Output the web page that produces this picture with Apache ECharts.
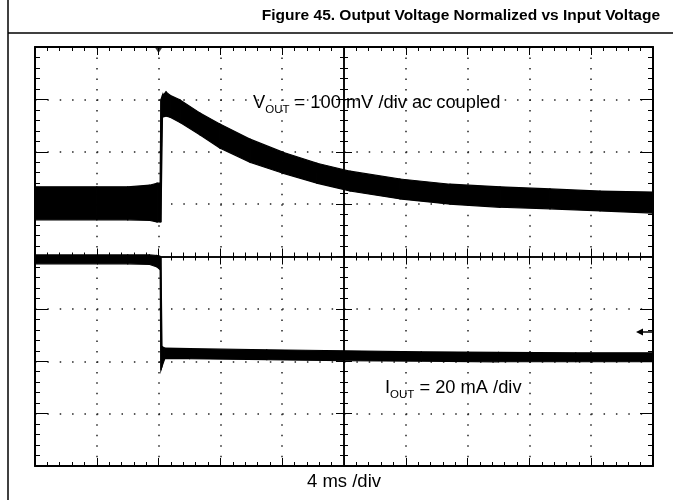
<!DOCTYPE html>
<html>
<head>
<meta charset="utf-8">
<script src="https://cdn.jsdelivr.net/npm/echarts@6/dist/echarts.min.js"></script>
<style>
  html, body { margin: 0; padding: 0; background: #fff; }
  #chart { width: 673px; height: 500px; }
</style>
</head>
<body>
<div id="chart"></div>
<script>
// time in ms (4 ms/div, 0 = screen centre), amplitude in divisions
var voutTime  = [-20, -16, -14, -12.6, -12.1, -11.9, -11.85, -11.75, -11.52, -11.26, -10.61, -9.32, -8.03, -6.08, -3.95, -1.75, 0.39, 3.62, 6.86, 10.10, 13.33, 16.57, 20];
var voutUpper = [1.33, 1.33, 1.33, 1.36, 1.40, 1.40, 3.00, 3.08, 3.14, 3.08, 2.99, 2.74, 2.53, 2.24, 1.99, 1.78, 1.63, 1.48, 1.38, 1.33, 1.29, 1.25, 1.23];
var voutLower = [0.70, 0.70, 0.70, 0.69, 0.66, 0.66, 0.66, 2.66, 2.68, 2.66, 2.56, 2.32, 2.07, 1.80, 1.59, 1.40, 1.25, 1.10, 1.00, 0.94, 0.91, 0.87, 0.83];

var ioutTime  = [-20, -14, -12.6, -12.1, -11.9, -11.85, -11.78, -11.6, -10, -5, 0, 5, 10, 15, 20];
var ioutUpper = [0.03, 0.03, 0.03, 0.02, 0.0, -0.02, -1.72, -1.75, -1.76, -1.78, -1.80, -1.82, -1.83, -1.84, -1.84];
var ioutLower = [-0.14, -0.14, -0.15, -0.20, -0.25, -2.17, -2.10, -1.95, -1.95, -1.97, -1.99, -2.0, -2.01, -2.01, -2.01];

var triggerTime = -12;
var timeTicks = [-20, 20, 4];   // min, max, ms per div
var divTicks = [-4, 4, 1];

var FONT = '"Liberation Sans", Arial, sans-serif';

function xAx(pos, opts) {
    var a = {
        type: 'value', position: pos,
        min: timeTicks[0], max: timeTicks[1], interval: timeTicks[2],
        axisLine: { show: true, onZero: false, lineStyle: { color: '#000', width: 2 } },
        axisTick: { show: true, inside: true, length: 8, lineStyle: { color: '#000', width: 1 } },
        minorTick: { show: true, splitNumber: 5, length: 4, lineStyle: { color: '#000', width: 1 } },
        axisLabel: { show: false },
        splitLine: { show: false }
    };
    return Object.assign(a, opts || {});
}
function yAx(pos, opts) {
    var a = {
        type: 'value', position: pos,
        min: divTicks[0], max: divTicks[1], interval: divTicks[2],
        axisLine: { show: true, onZero: false, lineStyle: { color: '#000', width: 2 } },
        axisTick: { show: true, inside: true, length: 13, lineStyle: { color: '#000', width: 1 } },
        minorTick: { show: true, splitNumber: 5, length: 5, lineStyle: { color: '#000', width: 1 } },
        axisLabel: { show: false },
        splitLine: { show: false }
    };
    return Object.assign(a, opts || {});
}
var centreLine = { show: true, onZero: true, lineStyle: { color: '#000', width: 1.5 } };
var centreMinor = { show: true, splitNumber: 5, length: 4, lineStyle: { color: '#000' } };

// noisy trace drawn as a filled envelope: each item joins point i to point i+1
function band(name, t, up, lo) {
    return {
        name: name, type: 'custom', clip: true, z: 5,
        data: t.map(function (x, i) { return [x, up[i], lo[i]]; }),
        renderItem: function (params, api) {
            var i = params.dataIndexInside;
            if (i >= params.dataInsideLength - 1) return null;
            var a1 = api.coord([api.value(0, i), api.value(1, i)]);
            var a2 = api.coord([api.value(0, i + 1), api.value(1, i + 1)]);
            var b2 = api.coord([api.value(0, i + 1), api.value(2, i + 1)]);
            var b1 = api.coord([api.value(0, i), api.value(2, i)]);
            return {
                type: 'polygon',
                shape: { points: [a1, a2, b2, b1] },
                style: { fill: '#000', stroke: '#000', lineWidth: 1.2 }
            };
        }
    };
}

var labelRich = {
    m: { fontFamily: FONT, fontSize: 18.3, lineHeight: 22, verticalAlign: 'top', fill: '#000' },
    s: { fontFamily: FONT, fontSize: 11.5, lineHeight: 12, verticalAlign: 'bottom', fill: '#000' }
};

var chart = echarts.init(document.getElementById('chart'), null, { renderer: 'canvas' });

var option = {
    backgroundColor: '#fff',
    animation: false,
    title: {
        text: 'Figure 45. Output Voltage Normalized vs Input Voltage',
        right: 8, top: 3,
        textStyle: { fontFamily: FONT, fontWeight: 'bold', fontSize: 15.5, color: '#000' }
    },
    grid: { left: 35, top: 47, width: 618, height: 419, outerBoundsMode: 'none', containLabel: false },
    xAxis: [
        xAx('bottom', {
            name: '4 ms /div', nameLocation: 'middle', nameGap: 6,
            nameTextStyle: { fontFamily: FONT, fontSize: 18.5, color: '#000' },
            splitLine: { show: true, lineStyle: { color: '#222', width: 1.5, type: [1.5, 8.98] } }
        }),
        xAx('top'),
        xAx('bottom', { axisLine: centreLine, axisTick: { show: true, inside: false, length: 8, lineStyle: { color: '#000' } } }),
        xAx('bottom', { axisLine: centreLine, axisTick: { show: true, inside: true, length: 8, lineStyle: { color: '#000' } } })
    ],
    yAxis: [
        yAx('left', {
            splitLine: { show: true, lineStyle: { color: '#222', width: 1.5, type: [1.5, 10.86] } }
        }),
        yAx('right'),
        yAx('left', { axisLine: centreLine, minorTick: centreMinor,
                      axisTick: { show: true, inside: false, length: 8, lineStyle: { color: '#000' } } }),
        yAx('left', { axisLine: centreLine, minorTick: centreMinor,
                      axisTick: { show: true, inside: true, length: 8, lineStyle: { color: '#000' } } })
    ],
    series: [
        band('VOUT', voutTime, voutUpper, voutLower),
        band('IOUT', ioutTime, ioutUpper, ioutLower),
        {
            name: 'trigger', type: 'scatter', xAxisIndex: 1, clip: false,
            data: [[triggerTime, divTicks[1]]],
            symbol: 'triangle', symbolRotate: 180, symbolSize: [8, 6], symbolOffset: [0, 3],
            itemStyle: { color: '#000' }, z: 6
        }
    ],
    graphic: [
        { type: 'line', shape: { x1: 8, y1: 0, x2: 8, y2: 500 }, style: { stroke: '#000', lineWidth: 1.5 } },
        { type: 'line', shape: { x1: 8, y1: 33, x2: 673, y2: 33 }, style: { stroke: '#000', lineWidth: 1.5 } },
        {
            type: 'text', left: 253, top: 94, z: 10,
            style: { text: '{m|V}{s|OUT}{m| = 100 mV /div ac coupled}', rich: labelRich }
        },
        {
            type: 'text', left: 385, top: 379, z: 10,
            style: { text: '{m|I}{s|OUT}{m| = 20 mA /div}', rich: labelRich }
        },
        // channel 2 reference arrow on the right edge
        { type: 'line', z: 10, shape: { x1: 641, y1: 332, x2: 652, y2: 332 }, style: { stroke: '#000', lineWidth: 1.5 } },
        { type: 'polygon', z: 10, shape: { points: [[636, 332], [643, 328.5], [643, 335.5]] }, style: { fill: '#000' } }
    ]
};
chart.setOption(option);
</script>
</body>
</html>
